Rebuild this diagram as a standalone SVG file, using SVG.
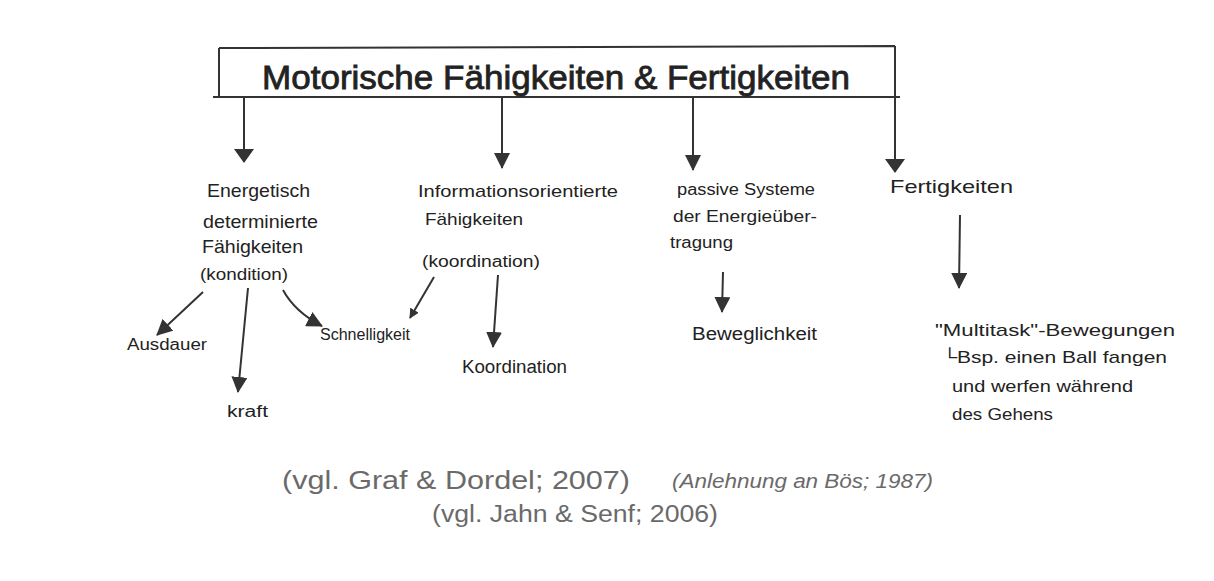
<svg xmlns="http://www.w3.org/2000/svg" width="1214" height="581" viewBox="0 0 1214 581">
<style>
.t{font-family:"Liberation Sans",Arial,sans-serif;fill:#222;font-size:18px}
.ln{stroke:#333;stroke-width:2;fill:none}
.c{font-family:"Liberation Sans",Arial,sans-serif;fill:#6a6a6a}
</style>
<defs>
<marker id="ah" markerWidth="10" markerHeight="10" refX="9" refY="5" orient="auto" markerUnits="userSpaceOnUse"><path d="M0,0 L10,5 L0,10 Z" fill="#333"/></marker>
<marker id="ahb" markerWidth="16" markerHeight="16" refX="15" refY="8" orient="auto" markerUnits="userSpaceOnUse"><path d="M0,0 L16,8 L0,16 Z" fill="#333"/></marker>
<marker id="ahw" markerWidth="14" markerHeight="20" refX="13" refY="10" orient="auto" markerUnits="userSpaceOnUse"><path d="M0,0 L14,10 L0,20 Z" fill="#333"/></marker>
</defs>
<rect width="1214" height="581" fill="#fff"/>
<g id="title">
<path class="ln" d="M219,48 L895,46 M219,48 L219,97 M895,46 L895,97 M213,97 L900,97"/>
<text class="t" x="262" y="89" style="font-size:33px;stroke:#222;stroke-width:0.8" textLength="588" lengthAdjust="spacingAndGlyphs">Motorische Fähigkeiten &amp; Fertigkeiten</text>
</g>
<g id="connectors">
<line class="ln" x1="244" y1="97" x2="244" y2="162" marker-end="url(#ahw)"/>
<line class="ln" x1="502" y1="97" x2="502" y2="168" marker-end="url(#ahb)"/>
<line class="ln" x1="693" y1="97" x2="693" y2="170" marker-end="url(#ahb)"/>
<line class="ln" x1="895" y1="97" x2="895" y2="172" marker-end="url(#ahw)"/>
<line class="ln" x1="203" y1="292" x2="157" y2="335" marker-end="url(#ahb)"/>
<line class="ln" x1="248" y1="288" x2="238" y2="392" marker-end="url(#ahb)"/>
<path class="ln" d="M283,290 Q295,312 322,326" marker-end="url(#ahb)"/>
<line class="ln" x1="434" y1="277" x2="410" y2="318" marker-end="url(#ah)"/>
<line class="ln" x1="498" y1="275" x2="493" y2="347" marker-end="url(#ahb)"/>
<line class="ln" x1="723" y1="272" x2="722" y2="312" marker-end="url(#ahb)"/>
<line class="ln" x1="960" y1="215" x2="959" y2="288" marker-end="url(#ahb)"/>
</g>
<g id="energetisch">
<text class="t" x="207" y="197" style="font-size:19px" textLength="103" lengthAdjust="spacingAndGlyphs">Energetisch</text>
<text class="t" x="203" y="228" style="font-size:19px" textLength="115" lengthAdjust="spacingAndGlyphs">determinierte</text>
<text class="t" x="202" y="253" style="font-size:19px" textLength="101" lengthAdjust="spacingAndGlyphs">Fähigkeiten</text>
<text class="t" x="200" y="280" style="font-size:17px" textLength="88" lengthAdjust="spacingAndGlyphs">(kondition)</text>
</g>
<g id="ausdauer"><text class="t" x="127" y="350" style="font-size:16px" textLength="80" lengthAdjust="spacingAndGlyphs">Ausdauer</text></g>
<g id="kraft"><text class="t" x="227" y="417" style="font-size:16px" textLength="41" lengthAdjust="spacingAndGlyphs">kraft</text></g>
<g id="schnelligkeit"><text class="t" x="320" y="340" style="font-size:16px" textLength="90" lengthAdjust="spacingAndGlyphs">Schnelligkeit</text></g>
<g id="information">
<text class="t" x="418" y="197" style="font-size:17px" textLength="200" lengthAdjust="spacingAndGlyphs">Informationsorientierte</text>
<text class="t" x="425" y="225" style="font-size:17px" textLength="98" lengthAdjust="spacingAndGlyphs">Fähigkeiten</text>
<text class="t" x="422" y="267" style="font-size:16px" textLength="118" lengthAdjust="spacingAndGlyphs">(koordination)</text>
</g>
<g id="koordination"><text class="t" x="462" y="373" style="font-size:18px" textLength="105" lengthAdjust="spacingAndGlyphs">Koordination</text></g>
<g id="passive">
<text class="t" x="677" y="195" style="font-size:16px" textLength="138" lengthAdjust="spacingAndGlyphs">passive Systeme</text>
<text class="t" x="673" y="222" style="font-size:16px" textLength="144" lengthAdjust="spacingAndGlyphs">der Energieüber-</text>
<text class="t" x="670" y="248" style="font-size:16px" textLength="63" lengthAdjust="spacingAndGlyphs">tragung</text>
</g>
<g id="beweglichkeit"><text class="t" x="692" y="340" style="font-size:18px" textLength="125" lengthAdjust="spacingAndGlyphs">Beweglichkeit</text></g>
<g id="fertigkeiten"><text class="t" x="890" y="193" style="font-size:19px" textLength="123" lengthAdjust="spacingAndGlyphs">Fertigkeiten</text></g>
<g id="multitask">
<text class="t" x="935" y="336" style="font-size:17px" textLength="240" lengthAdjust="spacingAndGlyphs">"Multitask"-Bewegungen</text>
<text class="t" x="942" y="363" style="font-size:17px" textLength="225" lengthAdjust="spacingAndGlyphs">└Bsp. einen Ball fangen</text>
<text class="t" x="952" y="392" style="font-size:17px" textLength="181" lengthAdjust="spacingAndGlyphs">und werfen während</text>
<text class="t" x="952" y="420" style="font-size:17px" textLength="101" lengthAdjust="spacingAndGlyphs">des Gehens</text>
</g>
<g id="citations">
<text class="c" x="282" y="489" style="font-size:25px" textLength="348" lengthAdjust="spacingAndGlyphs">(vgl. Graf &amp; Dordel; 2007)</text>
<text class="c" x="672" y="488" style="font-size:20px;font-style:italic" textLength="261" lengthAdjust="spacingAndGlyphs">(Anlehnung an Bös; 1987)</text>
<text class="c" x="432" y="522" style="font-size:23px" textLength="286" lengthAdjust="spacingAndGlyphs">(vgl. Jahn &amp; Senf; 2006)</text>
</g>
</svg>
